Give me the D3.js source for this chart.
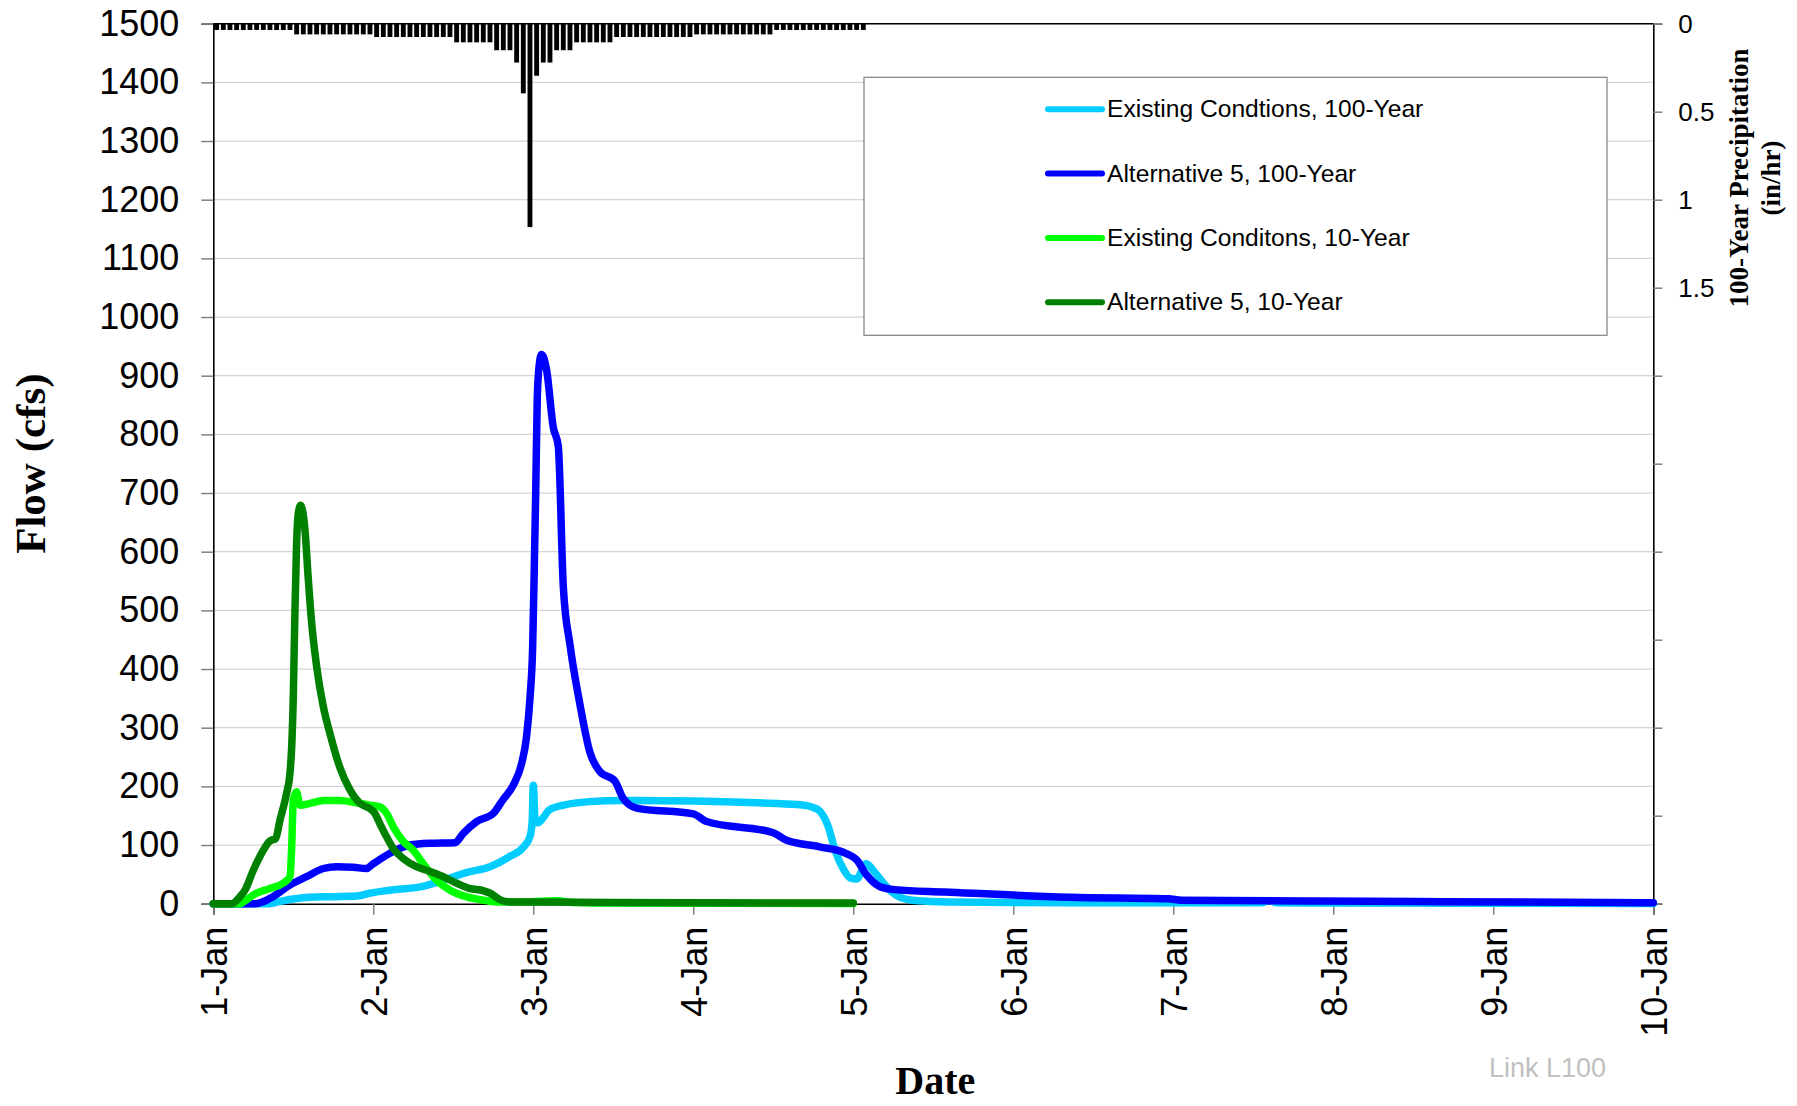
<!DOCTYPE html>
<html>
<head>
<meta charset="utf-8">
<script src="https://cdn.jsdelivr.net/npm/d3@7"></script>
<style>
  body { margin: 0; background: #fff; }
  svg { display: block; }
</style>
</head>
<body>
<div id="chart"></div>
<script>
// x in days after 1-Jan, y in cfs
const dateLabels = ['1-Jan', '2-Jan', '3-Jan', '4-Jan', '5-Jan', '6-Jan', '7-Jan', '8-Jan', '9-Jan', '10-Jan'];
const flowTicks = [0, 100, 200, 300, 400, 500, 600, 700, 800, 900, 1000, 1100, 1200, 1300, 1400, 1500];
const precipTicks = [0, 0.5, 1, 1.5, 2, 2.5, 3, 3.5, 4, 4.5, 5];
const precipLabels = [0, 0.5, 1, 1.5];

// hourly 100-year precipitation (in/hr)
const precipHourly = [
    0.03, 0.03, 0.03, 0.03, 0.03, 0.03, 0.03, 0.03, 0.03, 0.03, 0.03, 0.03,
    0.055, 0.055, 0.055, 0.055, 0.055, 0.055, 0.055, 0.055, 0.055, 0.055, 0.055, 0.055,
    0.07, 0.07, 0.07, 0.07, 0.07, 0.07, 0.07, 0.07, 0.07, 0.07, 0.07, 0.07,
    0.1, 0.1, 0.1, 0.1, 0.1, 0.1,
    0.145, 0.145, 0.145,
    0.215, 0.39, 1.15, 0.29, 0.215, 0.215,
    0.145, 0.145, 0.145,
    0.1, 0.1, 0.1, 0.1, 0.1, 0.1,
    0.07, 0.07, 0.07, 0.07, 0.07, 0.07, 0.07, 0.07, 0.07, 0.07, 0.07, 0.07,
    0.055, 0.055, 0.055, 0.055, 0.055, 0.055, 0.055, 0.055, 0.055, 0.055, 0.055, 0.055,
    0.03, 0.03, 0.03, 0.03, 0.03, 0.03, 0.03, 0.03, 0.03, 0.03, 0.03, 0.03, 0.03, 0.03
];

const existing100 = [
    [0, 0], [0.34, 0], [0.42, 4], [0.5, 8], [0.6, 11], [0.75, 12], [0.9, 13], [0.98, 18],
    [1.1, 23], [1.3, 29], [1.44, 40], [1.58, 53], [1.73, 63], [1.85, 80], [1.94, 97],
    [1.98, 115], [1.993, 140], [2.0, 202], [2.012, 140], [2.03, 138], [2.06, 146], [2.1, 160],
    [2.19, 168], [2.35, 174], [2.56, 176], [3.0, 175], [3.4, 172], [3.65, 169], [3.75, 164],
    [3.79, 158], [3.84, 134], [3.89, 88], [3.94, 58], [3.98, 44], [4.02, 42], [4.08, 68],
    [4.13, 55], [4.18, 38], [4.24, 20], [4.3, 10], [4.4, 5], [4.6, 3], [5, 2], [6, 1.5],
    [6.55, 1.5], [6.6, 5], [6.65, 1.5], [7, 1], [9, 0.5]
];

const alt5_100 = [
    [0, 0], [0.26, 0], [0.354, 9], [0.479, 32], [0.583, 46], [0.6875, 60], [0.77, 63],
    [0.875, 62], [0.958, 60], [0.99, 66], [1.104, 86], [1.229, 100], [1.354, 103], [1.51, 104],
    [1.5625, 120], [1.646, 140], [1.75, 154], [1.81, 177], [1.875, 202], [1.927, 239],
    [1.958, 285], [1.98, 353], [1.996, 438], [2.006, 570], [2.015, 700], [2.025, 864],
    [2.04, 925], [2.052, 936], [2.083, 910], [2.125, 812], [2.156, 780], [2.188, 538],
    [2.23, 440], [2.29, 342], [2.354, 258], [2.417, 225], [2.51, 209], [2.563, 179],
    [2.646, 163], [3.0, 153], [3.083, 140], [3.5, 121], [3.583, 108], [3.79, 97], [3.96, 85],
    [4.02, 75], [4.083, 49], [4.167, 29], [4.26, 24], [4.57, 20], [5.35, 11], [5.97, 8.5],
    [6.05, 6], [6.9, 4.5], [7.68, 3.4], [9.0, 1.7]
];

const existing10 = [
    [0, 0], [0.17, 0], [0.1875, 3], [0.27, 18], [0.354, 26], [0.4375, 35], [0.479, 46],
    [0.49, 97], [0.5, 177], [0.52, 191], [0.5417, 168], [0.604, 171], [0.6875, 176],
    [0.79, 176], [0.896, 172], [0.979, 168], [1.04, 165], [1.083, 154], [1.125, 131],
    [1.1875, 106], [1.25, 91], [1.31, 69], [1.396, 40], [1.48, 23], [1.58, 12], [1.69, 6],
    [1.79, 3], [1.94, 3], [2.05, 4], [2.15, 5], [2.25, 2], [2.5, 1], [4.0, 0.5]
];

const alt5_10 = [
    [0, 0], [0.115, 0], [0.167, 12], [0.198, 23], [0.25, 57], [0.3125, 91], [0.354, 107],
    [0.39, 111], [0.417, 143], [0.458, 188], [0.479, 222], [0.49, 268], [0.5, 353], [0.51, 495],
    [0.52, 608], [0.531, 665], [0.546, 679], [0.573, 637], [0.594, 552], [0.615, 478],
    [0.646, 404], [0.6875, 336], [0.729, 290], [0.79, 233], [0.854, 194], [0.917, 171],
    [0.979, 162], [1.01, 154], [1.04, 137], [1.083, 114], [1.125, 94], [1.1875, 77],
    [1.27, 63], [1.354, 55], [1.4375, 46], [1.52, 35], [1.6, 26], [1.69, 22], [1.73, 18],
    [1.79, 7], [1.85, 3], [2.5, 2], [4.0, 1]
];

const seriesNames = ['Existing Condtions, 100-Year', 'Alternative 5, 100-Year', 'Existing Conditons, 10-Year', 'Alternative 5, 10-Year'];
const seriesColors = ['#00CCFF', '#0000FF', '#00FF00', '#008000'];
const seriesData = [existing100, alt5_100, existing10, alt5_10];

const W = 1797, H = 1106;
const plot = {left: 213.3, right: 1653.3, top: 23.7, bottom: 903.7};
const sans = "'Liberation Sans', Arial, sans-serif";
const serif = "'Liberation Serif', 'Times New Roman', serif";

let svg = d3.select('#chart').append('svg')
    .attr('width', W)
    .attr('height', H);

let x = d3.scaleLinear().domain([0, 9]).range([plot.left, plot.right]);
let y = d3.scaleLinear().domain([0, 1500]).range([plot.bottom, plot.top]);
let yP = d3.scaleLinear().domain([0, 5]).range([plot.top, plot.bottom]);

// gridlines
svg.append('g')
    .selectAll('line')
    .data(flowTicks.filter(d => d > 0))
    .enter().append('line')
    .attr('x1', plot.left).attr('x2', plot.right)
    .attr('y1', d => y(d)).attr('y2', d => y(d))
    .attr('stroke', '#d4d4d4')
    .attr('stroke-width', 1.3);

// left axis
let yAxis = svg.append('g')
    .attr('transform', `translate(${plot.left},0)`)
    .call(d3.axisLeft(y).tickValues(flowTicks).tickFormat(d3.format('d')).tickSize(12).tickPadding(22));
yAxis.select('.domain').attr('stroke', '#000').attr('stroke-width', 1.6);
yAxis.selectAll('.tick line').attr('stroke', '#808080').attr('stroke-width', 1.5);
yAxis.selectAll('text').attr('font-family', sans).attr('font-size', 36).attr('fill', '#000');

// bottom axis
let xAxis = svg.append('g')
    .attr('transform', `translate(0,${plot.bottom})`)
    .call(d3.axisBottom(x).tickValues(d3.range(dateLabels.length)).tickFormat(i => dateLabels[i]).tickSize(11));
xAxis.select('.domain').attr('stroke', '#000').attr('stroke-width', 1.6);
xAxis.selectAll('.tick line').attr('stroke', '#808080').attr('stroke-width', 1.5);
xAxis.selectAll('text')
    .attr('font-family', sans).attr('font-size', 36).attr('fill', '#000')
    .attr('text-anchor', 'end')
    .attr('x', -23).attr('y', 0).attr('dy', '0.36em')
    .attr('transform', 'rotate(-90)');

// right axis (precipitation, reversed)
let pAxis = svg.append('g')
    .attr('transform', `translate(${plot.right},0)`)
    .call(d3.axisRight(yP).tickValues(precipTicks)
        .tickFormat(d => precipLabels.includes(d) ? d3.format('~g')(d) : '')
        .tickSize(9).tickPadding(16));
pAxis.select('.domain').attr('stroke', '#000').attr('stroke-width', 1.6);
pAxis.selectAll('.tick line').attr('stroke', '#808080').attr('stroke-width', 1.5);
pAxis.selectAll('text').attr('font-family', sans).attr('font-size', 26).attr('fill', '#000');

// top border
svg.append('line')
    .attr('x1', plot.left).attr('x2', plot.right)
    .attr('y1', plot.top).attr('y2', plot.top)
    .attr('stroke', '#000').attr('stroke-width', 1.6);

// precipitation bars hanging from top
let barW = x(1 / 24) - x(0);
svg.append('g')
    .selectAll('rect')
    .data(precipHourly)
    .enter().append('rect')
    .attr('x', (d, i) => x(i / 24) + 0.9)
    .attr('y', yP(0))
    .attr('width', barW - 1.8)
    .attr('height', d => yP(d) - yP(0) + 1)
    .attr('fill', '#000');

// flow lines
let line = d3.line()
    .x(d => x(d[0]))
    .y(d => y(d[1]))
    .curve(d3.curveMonotoneX);

svg.append('g')
    .selectAll('path')
    .data(seriesData)
    .enter().append('path')
    .attr('d', d => line(d))
    .attr('fill', 'none')
    .attr('stroke', (d, i) => seriesColors[i])
    .attr('stroke-width', 7.5)
    .attr('stroke-linejoin', 'round')
    .attr('stroke-linecap', 'round');

// legend
let legend = svg.append('g');
legend.append('rect')
    .attr('x', 864).attr('y', 77.3)
    .attr('width', 743).attr('height', 258)
    .attr('fill', '#fff')
    .attr('stroke', '#808080')
    .attr('stroke-width', 1.2);

seriesNames.forEach((name, i) => {
    let ly = 109.3 + i * 64.3;
    legend.append('line')
        .attr('x1', 1048).attr('x2', 1102)
        .attr('y1', ly).attr('y2', ly)
        .attr('stroke', seriesColors[i])
        .attr('stroke-width', 6)
        .attr('stroke-linecap', 'round');
    legend.append('text')
        .attr('x', 1107).attr('y', ly + 8)
        .attr('font-family', sans).attr('font-size', 24.6)
        .text(name);
});

// axis titles
svg.append('text')
    .attr('transform', `translate(45,${(plot.top + plot.bottom) / 2}) rotate(-90)`)
    .attr('text-anchor', 'middle')
    .attr('font-family', serif).attr('font-weight', 'bold').attr('font-size', 43)
    .text('Flow (cfs)');

svg.append('text')
    .attr('x', (plot.left + plot.right) / 2 + 2).attr('y', 1094)
    .attr('text-anchor', 'middle')
    .attr('font-family', serif).attr('font-weight', 'bold').attr('font-size', 40)
    .text('Date');

let pTitle = svg.append('g').attr('transform', 'translate(1748,178) rotate(-90)');
pTitle.append('text')
    .attr('text-anchor', 'middle')
    .attr('font-family', serif).attr('font-weight', 'bold').attr('font-size', 27)
    .text('100-Year Precipitation');
pTitle.append('text')
    .attr('y', 32)
    .attr('text-anchor', 'middle')
    .attr('font-family', serif).attr('font-weight', 'bold').attr('font-size', 27)
    .text('(in/hr)');

svg.append('text')
    .attr('x', 1606).attr('y', 1077)
    .attr('text-anchor', 'end')
    .attr('font-family', sans).attr('font-size', 27)
    .attr('fill', '#c0c0c0')
    .text('Link L100');
</script>
</body>
</html>
